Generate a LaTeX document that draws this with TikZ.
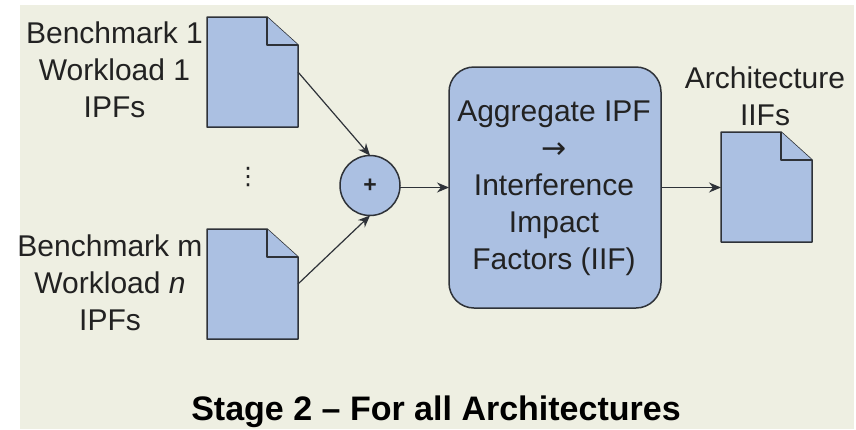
\documentclass[tikz,border=0pt]{standalone}
\usepackage{fontspec}
\setmainfont{Liberation Sans}
\newfontfamily\symfont{DejaVu Sans}
\usetikzlibrary{arrows.meta}
\definecolor{pagebg}{HTML}{EEEFE2}
\definecolor{shapefill}{HTML}{ABC0E2}
\definecolor{shapeline}{HTML}{2E3238}
\definecolor{inktext}{HTML}{222222}
\tikzset{
  docbox/.style={minimum width=91pt,minimum height=110pt,inner sep=0pt,outer sep=0pt},
  docline/.style={draw=shapeline,line width=1.5pt,fill=shapefill,line join=round},
  label text/.style={text=inktext,font=\fontsize{30pt}{37pt}\selectfont,align=center,inner sep=0pt},
  link/.style={draw=shapeline,line width=1.2pt,-{Stealth[length=12pt,width=10pt]}},
}
\newcommand{\docicon}[3]{%
  \node[docbox] (#1) at (#2,#3) {};
  \path[docline] (#1.north west) -- ++(60,0) -- ++(31,28) |- (#1.south west) -- cycle;
  \path[docline] (#1.north west) ++(60,0) -- ++(0,28) -- ++(31,0);
}
\begin{document}
\begin{tikzpicture}[x=1pt,y=-1pt]
\useasboundingbox (0,0) rectangle (856,429);
\fill[pagebg] (19.5,5) rectangle (854,429);
\docicon{d1}{252.5}{72}
\docicon{d2}{252.5}{284}
\docicon{d3}{766.5}{187}
\node[circle,draw=shapeline,line width=1.5pt,fill=shapefill,minimum size=60pt,inner sep=0pt,outer sep=0pt,text=inktext,font=\fontsize{23pt}{23pt}\selectfont\bfseries] (sum) at (370,185.5) {+};
\node[draw=shapeline,line width=1.5pt,fill=shapefill,rounded corners=25pt,minimum width=212pt,minimum height=241pt,inner sep=0pt,outer sep=0pt] (agg) at (555,187.5) {};
\node[label text] (aggt) at (554,188.5) {Aggregate IPF\\{\symfont →}\\Interference\\Impact\\Factors (IIF)};
\node[label text] (l1) at (114.5,70) {Benchmark 1\\Workload 1\\IPFs};
\node[label text] (l2) at (110,283) {Benchmark m\\Workload \textit{n}\\IPFs};
\node[label text] (l3) at (765,96) {Architecture\\IIFs};
\node[text=inktext,font=\fontsize{24pt}{24pt}\selectfont\symfont,inner sep=0pt] (dots) at (248,177.5) {⋮};
\node[text=black,font=\fontsize{34pt}{36pt}\selectfont\bfseries,inner sep=0pt] (title) at (436,412) {Stage 2 – For all Architectures};
\draw[link] (d1.east) -- (sum.north);
\draw[link] (d2.east) -- (sum.south);
\draw[link] (sum.east |- agg.west) -- (agg.west);
\draw[link] (agg.east) -- (d3.west |- agg.east);
\end{tikzpicture}
\end{document}
